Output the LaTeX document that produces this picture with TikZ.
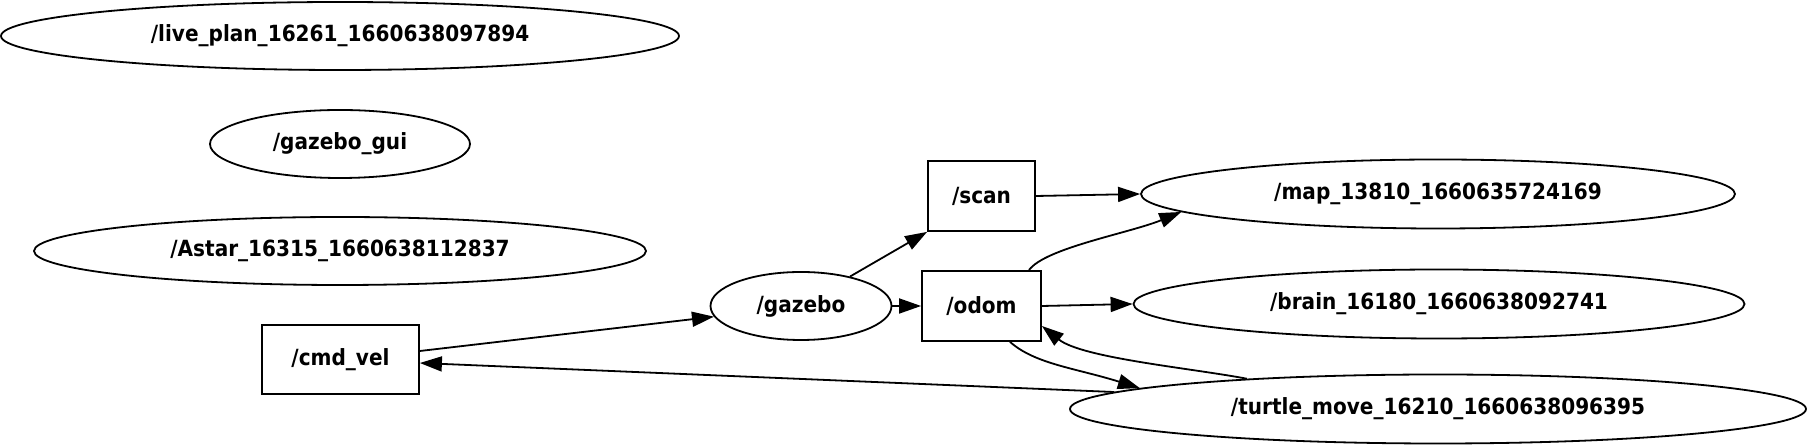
\documentclass[tikz,border=0pt]{standalone}
\usepackage{fontspec}
\setmainfont{DejaVu Sans}[FakeStretch=0.9]
\usetikzlibrary{shapes.geometric,arrows.meta}
\begin{document}
\begin{tikzpicture}[x=1pt,y=1pt,
  every node/.style={font=\fontsize{22.3}{26}\selectfont\bfseries, inner sep=0pt},
  topic/.style={draw, line width=1.8pt, ellipse},
  tbox/.style={draw, line width=1.8pt, rectangle},
  conn/.style={line width=1.8pt, -{Triangle[length=22pt,width=15pt]}}]
\useasboundingbox (0,0) rectangle (1808,446);
% nodes
\node[topic, minimum width=678pt, minimum height=68pt] (live) at (340,410) {/live\_plan\_16261\_1660638097894};
\node[topic, minimum width=260pt, minimum height=68pt] (gui) at (340,302) {/gazebo\_gui};
\node[topic, minimum width=612pt, minimum height=68pt] (astar) at (340,195) {/Astar\_16315\_1660638112837};
\node[tbox, minimum width=157pt, minimum height=69pt] (cmd) at (340.5,86.5) {/cmd\_vel};
\node[topic, minimum width=181pt, minimum height=68pt] (gazebo) at (801,140) {/gazebo};
\node[tbox, minimum width=107pt, minimum height=70pt] (scan) at (981.5,250) {/scan};
\node[tbox, minimum width=119pt, minimum height=70pt] (odom) at (981.5,140) {/odom};
\node[topic, minimum width=594pt, minimum height=69pt] (map) at (1438,252) {/map\_13810\_1660635724169};
\node[topic, minimum width=611pt, minimum height=69pt] (brain) at (1439,142) {/brain\_16180\_1660638092741};
\node[topic, minimum width=736pt, minimum height=69pt] (turtle) at (1438,37) {/turtle\_move\_16210\_1660638096395};
% connectors
\draw[conn] ([yshift=8.5pt]cmd.east) -- (gazebo.187);
\draw[conn] (turtle.177) -- ([yshift=-3.5pt]cmd.east);
\draw[conn] (gazebo.31) -- (scan.south west);
\draw[conn] (gazebo.east) -- (odom.west);
\draw[conn] (scan.east) -- (map.west);
\draw[conn] ([xshift=47.5pt]odom.north) .. controls (1045,198) and (1130,213) .. (map.184.4);
\draw[conn] (odom.east) -- (brain.west);
\draw[conn] ([xshift=28.5pt]odom.south) .. controls (1035,82) and (1075,78) .. (turtle.176.95);
\draw[conn] (turtle.171.6) .. controls (1190,78) and (1082,88) .. ([yshift=-20pt]odom.east);
\end{tikzpicture}
\end{document}
